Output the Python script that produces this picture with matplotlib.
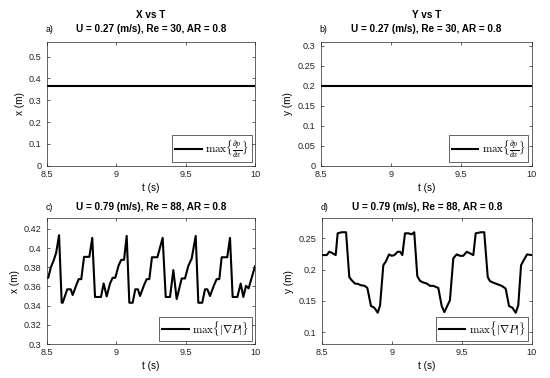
import matplotlib
matplotlib.use("Agg")
import matplotlib.pyplot as plt

# steady cases (U = 0.27 m/s)
t_steady = [8.5, 10.0]
x_steady = [0.367, 0.367]
y_steady = [0.2, 0.2]

# unsteady case (U = 0.79 m/s), x position vertices
t_x = [8.500, 8.511, 8.530, 8.550, 8.568, 8.589, 8.608, 8.615, 8.648, 8.673,
       8.687, 8.711, 8.730, 8.749, 8.769, 8.807, 8.828, 8.848, 8.891, 8.910,
       8.932, 8.956, 8.975, 8.994, 9.018, 9.037, 9.057, 9.076, 9.095, 9.119,
       9.138, 9.157, 9.172, 9.201, 9.220, 9.239, 9.258, 9.297, 9.335, 9.357,
       9.388, 9.412, 9.436, 9.472, 9.496, 9.520, 9.544, 9.573, 9.592, 9.620,
       9.640, 9.657, 9.676, 9.705, 9.724, 9.743, 9.760, 9.800, 9.820, 9.839,
       9.873, 9.897, 9.916, 9.935, 9.954, 10.000]
x_osc = [0.369, 0.369, 0.380, 0.387, 0.395, 0.4134, 0.343, 0.343, 0.357, 0.357,
         0.351, 0.3606, 0.3676, 0.3676, 0.3908, 0.3908, 0.4106, 0.349, 0.349, 0.3631,
         0.3496, 0.363, 0.369, 0.369, 0.382, 0.3877, 0.3877, 0.4127, 0.343, 0.343,
         0.357, 0.357, 0.350, 0.3614, 0.3676, 0.3676, 0.3904, 0.3904, 0.4106, 0.349,
         0.349, 0.377, 0.3468, 0.3683, 0.3683, 0.3815, 0.389, 0.4127, 0.343, 0.343,
         0.357, 0.357, 0.350, 0.3614, 0.3676, 0.3676, 0.3904, 0.3904, 0.4106, 0.349,
         0.349, 0.363, 0.349, 0.3606, 0.358, 0.381]

# unsteady case, y position vertices
t_y = [8.500, 8.536, 8.554, 8.571, 8.600, 8.614, 8.643, 8.674, 8.697, 8.714,
       8.738, 8.760, 8.779, 8.807, 8.826, 8.852, 8.869, 8.881, 8.900, 8.917,
       8.940, 8.957, 8.981, 9.000, 9.019, 9.043, 9.060, 9.076, 9.095, 9.119,
       9.143, 9.161, 9.183, 9.202, 9.226, 9.250, 9.274, 9.297, 9.333, 9.357,
       9.376, 9.416, 9.440, 9.464, 9.488, 9.511, 9.536, 9.559, 9.583, 9.600,
       9.638, 9.661, 9.686, 9.702, 9.726, 9.750, 9.786, 9.814, 9.838, 9.862,
       9.886, 9.904, 9.924, 9.943, 9.967, 10.000]
y_osc = [0.2232, 0.2232, 0.2285, 0.227, 0.2232, 0.258, 0.2597, 0.2597, 0.188, 0.183,
         0.1777, 0.177, 0.175, 0.174, 0.1706, 0.1417, 0.140, 0.1375, 0.131, 0.1428,
         0.207, 0.2125, 0.2243, 0.222, 0.2232, 0.2285, 0.2285, 0.2232, 0.258, 0.258,
         0.2565, 0.2597, 0.1894, 0.182, 0.1793, 0.1777, 0.174, 0.174, 0.1706, 0.142,
         0.132, 0.151, 0.218, 0.2243, 0.222, 0.222, 0.2285, 0.226, 0.2232, 0.258,
         0.2597, 0.2597, 0.188, 0.1815, 0.179, 0.177, 0.174, 0.1696, 0.1417, 0.139,
         0.131, 0.1428, 0.207, 0.215, 0.2243, 0.2232]

xticks = [8.5, 9, 9.5, 10]
xtick_labels = ["8.5", "9", "9.5", "10"]

plt.rcParams.update({
    "font.family": "Liberation Sans",
    "mathtext.fontset": "cm",
    "xtick.direction": "in",
    "ytick.direction": "in",
    "xtick.top": True,
    "ytick.right": True,
    "xtick.major.size": 2.5,
    "ytick.major.size": 2.5,
    "xtick.major.width": 0.5,
    "ytick.major.width": 0.5,
    "xtick.labelsize": 6.6,
    "ytick.labelsize": 6.6,
    "xtick.major.pad": 3.2,
    "ytick.major.pad": 3.8,
    "axes.linewidth": 0.5,
    "axes.edgecolor": "#262626",
})

W, H = 550.0, 378.0
fig = plt.figure(figsize=(5.5, 3.78), dpi=100)


def px_axes(left, top, right, bottom):
    return fig.add_axes([left / W, 1 - bottom / H, (right - left) / W, (bottom - top) / H])


ax_a = px_axes(46.7, 42.3, 255.0, 165.7)
ax_b = px_axes(320.7, 42.3, 531.7, 165.7)
ax_c = px_axes(46.7, 218.3, 255.0, 344.0)
ax_d = px_axes(321.7, 218.3, 531.7, 344.0)

lbl_dp = r"$\max\{\frac{\partial p}{\partial x}\}$"
lbl_grad = r"$\max\{|\nabla P|\}$"

panels = [
    (ax_a, t_steady, x_steady, "x (m)", (0, 0.566), [0, 0.1, 0.2, 0.3, 0.4, 0.5],
     ["0", "0.1", "0.2", "0.3", "0.4", "0.5"], "a)", "U = 0.27 (m/s), Re = 30, AR = 0.8", "X vs T", lbl_dp),
    (ax_b, t_steady, y_steady, "y (m)", (0, 0.308), [0, 0.05, 0.1, 0.15, 0.2, 0.25, 0.3],
     ["0", "0.05", "0.1", "0.15", "0.2", "0.25", "0.3"], "b)", "U = 0.27 (m/s), Re = 30, AR = 0.8", "Y vs T", lbl_dp),
    (ax_c, t_x, x_osc, "x (m)", (0.3, 0.431), [0.3, 0.32, 0.34, 0.36, 0.38, 0.4, 0.42],
     ["0.3", "0.32", "0.34", "0.36", "0.38", "0.4", "0.42"], "c)", "U = 0.79 (m/s), Re = 88, AR = 0.8", None, lbl_grad),
    (ax_d, t_y, y_osc, "y (m)", (0.081, 0.282), [0.1, 0.15, 0.2, 0.25],
     ["0.1", "0.15", "0.2", "0.25"], "d)", "U = 0.79 (m/s), Re = 88, AR = 0.8", None, lbl_grad),
]

for ax, t, v, ylab, ylim, yt, ytl, tag, sub, head, leg in panels:
    ax.plot(t, v, color="black", lw=1.5, label=leg)
    ax.set_xlim(8.5, 10)
    ax.set_ylim(*ylim)
    ax.set_xticks(xticks)
    ax.set_xticklabels(xtick_labels)
    ax.set_yticks(yt)
    ax.set_yticklabels(ytl)
    ax.tick_params(colors="#262626")
    ax.set_xlabel("t (s)", fontsize=7.2, labelpad=2.5)
    ax.set_ylabel(ylab, fontsize=7.2, labelpad=3)
    sub_off = 9.5 if head else 8.0
    ax.annotate(sub, (0.5, 1), xycoords="axes fraction", xytext=(0, sub_off),
                textcoords="offset points", ha="center", va="center",
                fontsize=7.2, fontweight="bold")
    ax.annotate(tag, (0, 1), xycoords="axes fraction", xytext=(-1, sub_off),
                textcoords="offset points", ha="left", va="center", fontsize=6.3)
    if head:
        ax.annotate(head, (0.5, 1), xycoords="axes fraction", xytext=(0, 19.5),
                    textcoords="offset points", ha="center", va="center",
                    fontsize=7.2, fontweight="bold")
    ax.legend(loc="lower right", fontsize=8, frameon=True, fancybox=False,
              edgecolor="#262626", handlelength=2.4, handletextpad=0.3,
              borderpad=0.25, borderaxespad=0.3, framealpha=1).get_frame().set_linewidth(0.5)

fig.savefig("out.png", dpi=100)
